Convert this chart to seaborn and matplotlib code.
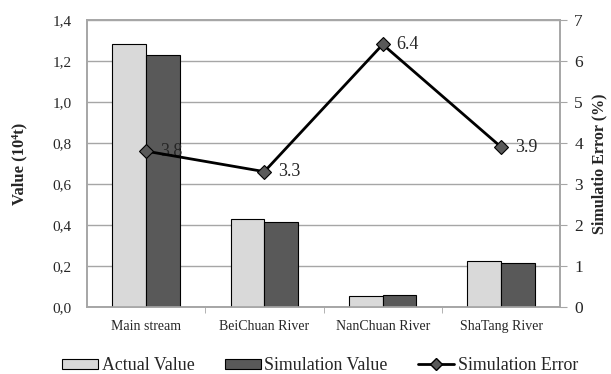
import numpy as np
import pandas as pd
import matplotlib
matplotlib.use("Agg")
import matplotlib.pyplot as plt
import seaborn as sns
from matplotlib.ticker import FuncFormatter, FixedLocator
from matplotlib.patches import Patch
from matplotlib.lines import Line2D

categories = ["Main stream", "BeiChuan River", "NanChuan River", "ShaTang River"]
actual_value = [1.28, 0.43, 0.055, 0.225]
simulation_value = [1.23, 0.415, 0.06, 0.215]
simulation_error = [3.8, 3.3, 6.4, 3.9]
error_labels = ["3.8", "3.3", "6.4", "3.9"]
series_names = ["Actual Value", "Simulation Value", "Simulation Error"]

sns.set_style("white")
plt.rcParams['font.family'] = ['Liberation Serif', 'DejaVu Serif']

df = pd.DataFrame({
    "category": categories * 2,
    "value": actual_value + simulation_value,
    "series": [series_names[0]] * 4 + [series_names[1]] * 4,
})

fig = plt.figure(figsize=(6.11, 3.74), dpi=100)
ax = fig.add_axes([0.142, 0.179, 0.775, 0.768])

grid_c = "#a6a6a6"
colors = {series_names[0]: "#d9d9d9", series_names[1]: "#595959"}
sns.barplot(data=df, x="category", y="value", hue="series", palette=colors,
            width=0.57, gap=0, edgecolor="black", linewidth=0.8, ax=ax,
            legend=False, zorder=3)
ax.set_ylim(0, 1.4)
ax.set_xlim(-0.5, 3.5)
ax.yaxis.set_major_locator(FixedLocator(np.arange(0, 1.41, 0.2)))
ax.yaxis.set_major_formatter(FuncFormatter(lambda v, p: f"{v:.1f}".replace(".", ",")))
ax.grid(axis="y", color=grid_c, lw=1, zorder=0)
ax.set_axisbelow(True)
ax.set_xlabel("")
ax.set_ylabel("Value (10⁴t)", fontsize=12, fontweight="bold")
ax.yaxis.set_label_coords(-0.125, 0.5)
ax.tick_params(axis="y", labelsize=11, length=0, pad=11, left=False)
ax.tick_params(axis="x", labelsize=10, length=0, pad=9)
ax.set_xticks([0.5, 1.5, 2.5], minor=True)
ax.tick_params(axis="x", which="minor", length=4, color=grid_c, bottom=True, direction="out")
for s in ax.spines.values():
    s.set_color(grid_c)
    s.set_linewidth(1.2)

ax2 = ax.twinx()
ax2.set_zorder(ax.get_zorder() + 1)
ax2.patch.set_visible(False)
x_pos = np.arange(len(categories))
sns.lineplot(x=x_pos, y=simulation_error, color="black", lw=2, marker="D",
             markersize=7, markerfacecolor="#595959", markeredgecolor="black",
             markeredgewidth=0.8, ax=ax2, zorder=5)
for xi, yi, lab in zip(x_pos, simulation_error, error_labels):
    ax2.annotate(lab, (xi, yi), xytext=(10, 0), textcoords="offset points",
                 ha="left", va="center", fontsize=13)
ax2.set_ylim(0, 7)
ax2.set_xlim(-0.5, 3.5)
ax2.yaxis.set_major_locator(FixedLocator(np.arange(0, 8, 1)))
ax2.set_ylabel("Simulatio Error (%)", fontsize=11.5, fontweight="bold")
ax2.yaxis.set_label_coords(1.066, 0.5)
ax2.tick_params(axis="y", labelsize=12.5, length=5, color=grid_c, direction="out",
                right=True, pad=5)
for s in ax2.spines.values():
    s.set_color(grid_c)
    s.set_linewidth(1.2)

handles = [
    Patch(facecolor="#d9d9d9", edgecolor="black", linewidth=0.8),
    Patch(facecolor="#595959", edgecolor="black", linewidth=0.8),
    Line2D([0], [0], color="black", lw=2, marker="D", markersize=6,
           markerfacecolor="#595959", markeredgecolor="black"),
]
fig.legend(handles, series_names, loc="center", bbox_to_anchor=(0.524, 0.022),
           ncol=3, frameon=False, fontsize=12.9, handlelength=2.0, handleheight=0.55,
           handletextpad=0.2, columnspacing=1.7, borderpad=0.1)

fig.savefig("out.png", dpi=100)
